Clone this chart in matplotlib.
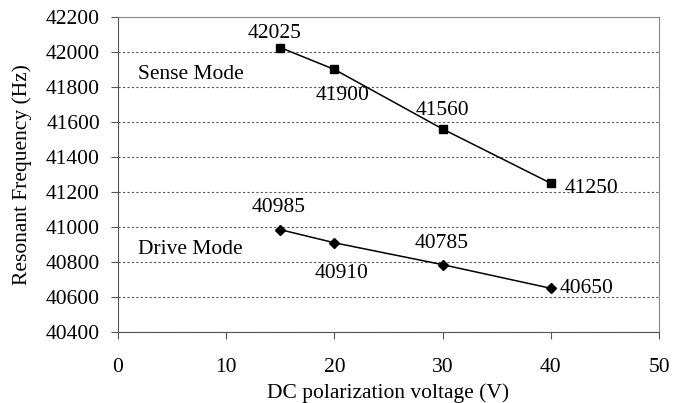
import matplotlib
matplotlib.use("Agg")
import matplotlib.pyplot as plt

plt.rcParams['font.family'] = ['Liberation Serif', 'DejaVu Serif']

voltage = [15, 20, 30, 40]
sense_freq = [42025, 41900, 41560, 41250]
drive_freq = [40985, 40910, 40785, 40650]

# label offsets (points) for each data label
sense_off = [(-4, 10), (6, -19), (0, 13), (29, -4)]
drive_off = [(-1, 16), (5, -22), (-1, 15), (26, 0)]

fs = 15.5

fig = plt.figure(figsize=(6.81, 4.03), dpi=100)
ax = fig.add_axes([0.1733, 0.176, 0.7944, 0.782])

ax.plot(voltage, sense_freq, color='black', lw=1.1, marker='s', ms=6)
ax.plot(voltage, drive_freq, color='black', lw=1.1, marker='D', ms=5.5)

for x, y, off in zip(voltage, sense_freq, sense_off):
    ax.annotate(str(y), (x, y), xytext=off, textcoords='offset points',
                ha='center', va='center', fontsize=fs)
for x, y, off in zip(voltage, drive_freq, drive_off):
    ax.annotate(str(y), (x, y), xytext=off, textcoords='offset points',
                ha='center', va='center', fontsize=fs)

ax.text(1.85, 41874, "Sense Mode", fontsize=fs, va='center')
ax.text(1.85, 40869, "Drive Mode", fontsize=fs, va='center')

ax.set_xlim(0, 50)
ax.set_ylim(40400, 42200)
ax.set_xticks(range(0, 51, 10))
ax.set_yticks(range(40400, 42201, 200))
ax.yaxis.grid(True, linestyle=(0, (2, 2)), color='#555555', lw=0.8)
ax.tick_params(axis='both', labelsize=fs, direction='out', length=5, color='#555555')
ax.tick_params(axis='x', pad=14)
ax.tick_params(axis='y', pad=8)

for s in ['top', 'right']:
    ax.spines[s].set_color('#888888')
for s in ['left', 'bottom']:
    ax.spines[s].set_color('#555555')

ax.set_xlabel("DC polarization voltage (V)", fontsize=fs, labelpad=4)
ax.set_ylabel("Resonant Frequency (Hz)", fontsize=fs, labelpad=10)

fig.savefig("out.png", dpi=100)
